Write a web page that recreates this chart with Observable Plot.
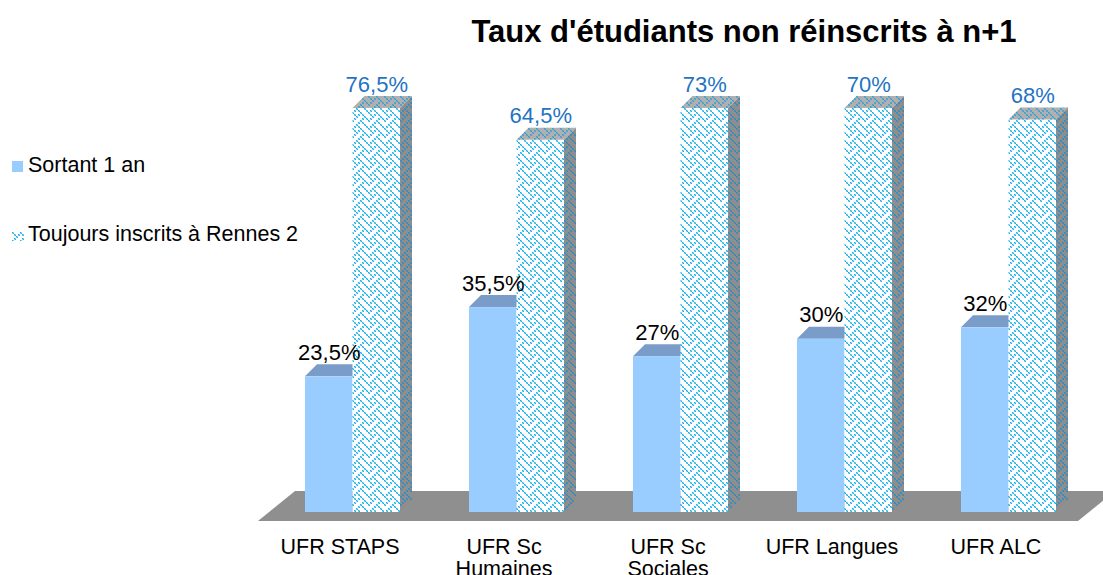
<!DOCTYPE html>
<html><head><meta charset="utf-8">
<script src="https://cdn.jsdelivr.net/npm/d3@7"></script>
<script src="https://cdn.jsdelivr.net/npm/@observablehq/plot@0.6"></script>
<style>
html,body{margin:0;padding:0;background:#fff;}
#wrap{position:relative;width:1103px;height:575px;overflow:hidden;font-family:"Liberation Sans",Arial,sans-serif;color:#000;}
#chart{position:absolute;left:0;top:0;}
#title{position:absolute;top:16px;left:744px;transform:translateX(-50%);white-space:nowrap;font-weight:bold;font-size:31px;line-height:31px;}
.legtext{position:absolute;left:28px;font-size:21.5px;line-height:21.5px;white-space:nowrap;}
.sw{position:absolute;}
</style></head>
<body>
<div id="wrap">
  <div id="chart"></div>
  <div id="title">Taux d'étudiants non réinscrits à n+1</div>
  <div id="legend"></div>
</div>
<script>
// ---- data ----
const categories = ["UFR STAPS", "UFR Sc\nHumaines", "UFR Sc\nSociales", "UFR Langues", "UFR ALC"];
const sortant = [23.5, 35.5, 27, 30, 32];
const toujours = [76.5, 64.5, 73, 70, 68];
const seriesNames = ["Sortant 1 an", "Toujours inscrits à Rennes 2"];
const yMax = 70; // axis maximum of the original chart (taller bars are clipped)

// ---- style ----
const weaveBits = ["10001000","01010100","00100010","01000101","10001000","00010100","00100010","01010001"];
const D = 12; // 3D depth
const W = 1103, H = 575, mL = 270.5, mR = 12.5, mT = 108, mB = 63;
const pIn = 0.4207, pOut = pIn / 2;
const step = (W - mL - mR) / (categories.length - pIn + 2 * pOut);
const bw = step * (1 - pIn);
const half = bw / 2;

// patterns
const defs = d3.select("body").append("svg").attr("width", 0).attr("height", 0)
  .style("position", "absolute").append("defs");
function makePattern(id, bg, fg) {
  const p = defs.append("pattern").attr("id", id).attr("patternUnits", "userSpaceOnUse")
    .attr("width", 16).attr("height", 16);
  p.append("rect").attr("width", 16).attr("height", 16).attr("fill", bg);
  weaveBits.forEach((row, r) => [...row].forEach((b, c) => {
    if (b === "1") {
      p.append("rect").attr("x", 2 * c).attr("y", 2 * r).attr("width", 1).attr("height", 1).attr("fill", fg);
      p.append("rect").attr("x", 2 * c + 1).attr("y", 2 * r + 1).attr("width", 1).attr("height", 1).attr("fill", fg);
      p.append("rect").attr("x", 2 * c + 1).attr("y", 2 * r).attr("width", 1).attr("height", 1).attr("fill", fg).attr("opacity", 0.55);
      p.append("rect").attr("x", 2 * c).attr("y", 2 * r + 1).attr("width", 1).attr("height", 1).attr("fill", fg).attr("opacity", 0.55);
    }
  }));
}
makePattern("weaveFront", "#ffffff", "#1fb0ec");
makePattern("weaveTop", "#b0b0b0", "#3a9fd2");
makePattern("weaveSide", "#8e8e8e", "#2c8cc2");

const rows = categories.map((c, i) => ({cat: c, s: sortant[i], t: toujours[i]}));
const fmt = v => String(v).replace(".", ",") + "%";

function depth(kind) {
  return (index, scales, values, dims, ctx, next) => {
    const g = next(index, scales, values, dims, ctx);
    g.querySelectorAll("rect").forEach(r => {
      const x = +r.getAttribute("x"), y = +r.getAttribute("y"),
            w = +r.getAttribute("width"), h = +r.getAttribute("height");
      const p = document.createElementNS("http://www.w3.org/2000/svg", "path");
      const d = kind === "top"
        ? `M${x},${y}L${x + D},${y - D}L${x + w + D},${y - D}L${x + w},${y}Z`
        : `M${x + w},${y}L${x + w + D},${y - D}L${x + w + D},${y + h - D}L${x + w},${y + h}Z`;
      for (const a of Array.from(r.attributes)) {
        if (!["x", "y", "width", "height"].includes(a.name)) p.setAttribute(a.name, a.value);
      }
      p.setAttribute("d", d);
      r.replaceWith(p);
    });
    return g;
  };
}

function floor(index, scales) {
  const x = scales.x, y = scales.y;
  const dom = typeof x.domain === "function" ? x.domain() : categories;
  const b = typeof x.bandwidth === "function" ? x.bandwidth() : x.bandwidth;
  const left = x(dom[0]), right = x(dom[dom.length - 1]) + b;
  const y0 = y(0), yb = y0 - 21, yf = y0 + 9;
  const path = d3.create("svg:path")
    .attr("d", `M${left - 47},${yf}L${left - 10},${yb}L${right + 59},${yb}L${right + 22},${yf}Z`)
    .attr("fill", "#8f8f8f");
  return path.node();
}

const chart = Plot.plot({
  width: W, height: H,
  marginLeft: mL, marginRight: mR, marginTop: mT, marginBottom: mB,
  x: {domain: categories, paddingInner: pIn, paddingOuter: pOut},
  y: {domain: [0, yMax], clamp: true, axis: null},
  style: {fontFamily: '"Liberation Sans", Arial, sans-serif', fontSize: "21.5px", color: "#000", background: "transparent"},
  marks: [
    floor,
    Plot.barY(rows, {x: "cat", y: "s", insetRight: half, fill: "#7a9cc9", render: depth("top")}),
    Plot.barY(rows, {x: "cat", y: "s", insetRight: half, fill: "#99ccff"}),
    Plot.barY(rows, {x: "cat", y: "t", insetLeft: half, fill: "url(#weaveFront)"}),
    Plot.barY(rows, {x: "cat", y: "t", insetLeft: half, fill: "url(#weaveTop)", render: depth("top")}),
    Plot.barY(rows, {x: "cat", y: "t", insetLeft: half, fill: "url(#weaveSide)", render: depth("side")}),
    Plot.text(rows, {x: "cat", y: "s", text: d => fmt(d.s), dx: -bw / 4, dy: -24, fontSize: 22, fill: "#000"}),
    Plot.text(rows, {x: "cat", y: "t", text: d => fmt(d.t), dx: bw / 4, dy: -24, fontSize: 22, fill: "#1f74c4"}),
    Plot.axisX({tickSize: 0, tickPadding: 25, dx: -13, fontSize: 21.5, lineHeight: 1.05, label: null, fill: "#000"})
  ]
});
document.getElementById("chart").appendChild(chart);

// legend
const leg = d3.select("#legend");
leg.append("div").attr("class", "sw")
  .style("left", "12px").style("top", "161px").style("width", "11px").style("height", "11px")
  .style("background", "#99ccff");
leg.append("div").attr("class", "legtext").style("top", "155px").text(seriesNames[0]);
const sw2 = leg.append("svg").attr("class", "sw").attr("width", 12).attr("height", 9)
  .style("left", "12px").style("top", "232px");
sw2.append("rect").attr("width", 12).attr("height", 9).attr("fill", "url(#weaveFront)");
leg.append("div").attr("class", "legtext").style("top", "224px").text(seriesNames[1]);
</script>
</body></html>
